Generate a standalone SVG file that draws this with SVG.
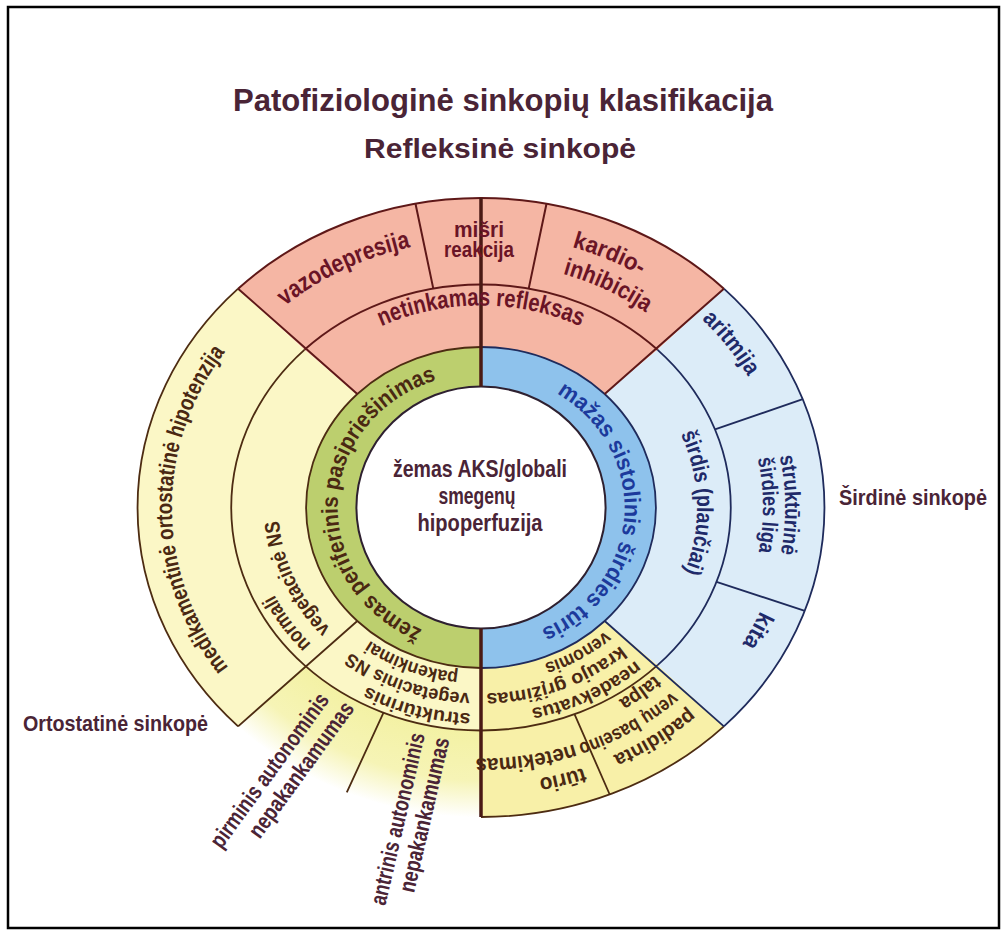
<svg xmlns="http://www.w3.org/2000/svg" width="1006" height="936" viewBox="0 0 1006 936">
<style>
.t{font-family:"Liberation Sans","DejaVu Sans Condensed",Arial,sans-serif;font-weight:bold}
.mar{fill:#6a1426}.brn{fill:#4a2812}.nav{fill:#1f2a6a}.blu{fill:#1c3a9c}.pur{fill:#4a2436}
.pink{fill:#f5b6a4}.yel{fill:#fbf7c6}.yel2{fill:#f8f0a8}.lbl{fill:#dcecf8}
.lm{stroke:#5e1818;stroke-width:2;fill:none}.ly{stroke:#4d2c12;stroke-width:1.8;fill:none}.lb{stroke:#1f2b5c;stroke-width:1.8;fill:none}
</style>
<defs>
<radialGradient id="gfade" gradientUnits="userSpaceOnUse" cx="481" cy="507.5" r="310" gradientTransform="translate(481 507.5) scale(1.11 1) translate(-481 -507.5)">
<stop offset="0.70" stop-color="#f3f1a2"/><stop offset="0.88" stop-color="#f6f4b6"/><stop offset="1" stop-color="#ffffff"/>
</radialGradient>
<path id="p_vazo" d="M223.4,373.5 A297.5 268 0 0 1 501.8,240.1"/>
<path id="p_kardio" d="M572.1,247.1 A303 273 0 0 1 743.4,371"/>
<path id="p_inhib" d="M562.8,273.8 A272 245 0 0 1 716.5,385"/>
<path id="p_netink" d="M285.3,406.5 A226 202 0 0 1 676.7,406.5"/>
<path id="p_green" d="M461,640.2 A143.4 134 0 0 1 476,373.6"/>
<path id="p_blue" d="M502.2,375 A143.4 134 0 0 1 484.8,641.5"/>
<path id="p_sirdis" d="M584.7,338.2 A216 193 0 0 1 593.2,672.4"/>
<path id="p_arit" d="M608,258.6 A304 274 0 0 1 783.7,482.2"/>
<path id="p_strukt" d="M743,368.4 A304 274 0 0 1 745.7,642.4"/>
<path id="p_sird2" d="M724,378.6 A282 254 0 0 1 726.4,632.6"/>
<path id="p_kita" d="M782.1,486.6 A302 272 0 0 1 651.6,731.9"/>
<path id="p_medik" d="M481,783.5 A306.4 276 0 0 1 475.6,231.5"/>
<path id="p_norm1" d="M311.2,644 A228.5 204 0 0 1 328.1,355.9"/>
<path id="p_norm2" d="M330.4,628.6 A202.7 181 0 0 1 345.4,373"/>
<path id="p_struk1" d="M606.6,680.3 A230.7 206 0 0 1 268.6,588"/>
<path id="p_struk2" d="M578.8,671.7 A208.3 186 0 0 1 282.9,565"/>
<path id="p_struk3" d="M565.4,655.4 A185.9 166 0 0 1 303.2,556"/>
<path id="p_nead1" d="M635.4,660.6 A230.7 206 0 0 1 285.4,616.7"/>
<path id="p_nead2" d="M620.4,645.7 A208.3 186 0 0 1 304.4,606.1"/>
<path id="p_nead3" d="M605.4,630.9 A185.9 166 0 0 1 323.4,595.5"/>
<path id="p_pad1" d="M689.2,708.6 A305.3 275 0 0 1 224.9,657.3"/>
<path id="p_pad2" d="M671.8,691.8 A279.7 252 0 0 1 246.4,644.7"/>
<path id="p_pad3" d="M654.4,675 A254.2 229 0 0 1 267.8,632.2"/>
<path id="p_tur1" d="M583.3,767.7 A306.4 276 0 0 1 178.8,553"/>
<path id="p_tur2" d="M574,744.1 A278.6 251 0 0 1 206.2,548.9"/>
</defs>
<rect x="0" y="0" width="1006" height="936" fill="#ffffff"/>
<rect x="8" y="7" width="991" height="921" fill="none" stroke="#000" stroke-width="2.5"/>

<g id="titles">
<text class="t pur" x="503" y="111" font-size="31" text-anchor="middle" textLength="540" lengthAdjust="spacingAndGlyphs">Patofiziologinė sinkopių klasifikacija</text>
<text class="t pur" x="500" y="158" font-size="27" text-anchor="middle" textLength="272" lengthAdjust="spacingAndGlyphs">Refleksinė sinkopė</text>
<text class="t pur" x="839" y="505" font-size="22" textLength="148" lengthAdjust="spacingAndGlyphs">Širdinė sinkopė</text>
<text class="t pur" x="23" y="731" font-size="22" textLength="185" lengthAdjust="spacingAndGlyphs">Ortostatinė sinkopė</text>
</g>

<g id="n_vazodepresija"><path class="pink" d="M238.1,288.7 A343.5 309.5 0 0 1 415.5,203.7 L433.3,288.6 A249.8 223 0 0 0 304.4,349.8 Z"/>
<text class="t mar" font-size="25"><textPath href="#p_vazo" startOffset="50%" text-anchor="middle" textLength="140" lengthAdjust="spacingAndGlyphs">vazodepresija</textPath></text></g>
<g id="n_misri"><path class="pink" d="M415.5,203.7 A343.5 309.5 0 0 1 546.5,203.7 L528.7,288.6 A249.8 223 0 0 0 433.3,288.6 Z"/></g>
<g id="n_kardio"><path class="pink" d="M546.5,203.7 A343.5 309.5 0 0 1 723.9,288.7 L657.6,349.8 A249.8 223 0 0 0 528.7,288.6 Z"/>
<text class="t mar" font-size="24"><textPath href="#p_kardio" textLength="74" lengthAdjust="spacingAndGlyphs">kardio-</textPath></text>
<text class="t mar" font-size="24"><textPath href="#p_inhib" textLength="92" lengthAdjust="spacingAndGlyphs">inhibicija</textPath></text></g>
<g id="n_aritmija"><path class="lbl" d="M723.9,288.7 A343.5 309.5 0 0 1 802.8,399.1 L715,429.4 A249.8 223 0 0 0 657.6,349.8 Z"/>
<text class="t nav" font-size="23"><textPath href="#p_arit" startOffset="50%" text-anchor="middle" textLength="74" lengthAdjust="spacingAndGlyphs">aritmija</textPath></text></g>
<g id="n_strukturine"><path class="lbl" d="M802.8,399.1 A343.5 309.5 0 0 1 804.8,610.8 L716.5,581.9 A249.8 223 0 0 0 715,429.4 Z"/>
<text class="t nav" font-size="22"><textPath href="#p_strukt" startOffset="50%" text-anchor="middle" textLength="98" lengthAdjust="spacingAndGlyphs">struktūrinė</textPath></text>
<text class="t nav" font-size="22"><textPath href="#p_sird2" startOffset="50%" text-anchor="middle" textLength="94" lengthAdjust="spacingAndGlyphs">širdies liga</textPath></text></g>
<g id="n_kita"><path class="lbl" d="M804.8,610.8 A343.5 309.5 0 0 1 723.9,726.3 L657.6,665.2 A249.8 223 0 0 0 716.5,581.9 Z"/>
<text class="t nav" font-size="23"><textPath href="#p_kita" startOffset="50%" text-anchor="middle" textLength="38" lengthAdjust="spacingAndGlyphs">kita</textPath></text></g>
<g id="n_padidinta"><path class="yel2" d="M723.9,726.3 A343.5 309.5 0 0 1 609.7,794.5 L574.6,714.3 A249.8 223 0 0 0 657.6,665.2 Z"/></g>
<g id="n_turio"><path class="yel2" d="M609.7,794.5 A343.5 309.5 0 0 1 481,817 L481,730.5 A249.8 223 0 0 0 574.6,714.3 Z"/></g>
<g id="n_antrinis"><path fill="url(#gfade)" d="M481,817 A343.5 309.5 0 0 1 346.8,792.4 L383.4,712.8 A249.8 223 0 0 0 481,730.5 Z"/></g>
<g id="n_pirminis"><path fill="url(#gfade)" d="M346.8,792.4 A343.5 309.5 0 0 1 238.1,726.3 L304.4,665.2 A249.8 223 0 0 0 383.4,712.8 Z"/></g>
<g id="n_medikamentine"><path class="yel" d="M238.1,726.3 A343.5 309.5 0 0 1 238.1,288.7 L304.4,349.8 A249.8 223 0 0 0 304.4,665.2 Z"/>
<text class="t brn" font-size="23"><textPath href="#p_medik" startOffset="50%" text-anchor="middle" textLength="340" lengthAdjust="spacingAndGlyphs">medikamentinė ortostatinė hipotenzija</textPath></text></g>

<g id="n_netinkamas"><path class="pink" d="M304.4,349.8 A249.8 223 0 0 1 657.6,349.8 L604.7,394 A175 160.5 0 0 0 357.3,394 Z"/></g>
<g id="n_sirdis"><path class="lbl" d="M657.6,349.8 A249.8 223 0 0 1 657.6,665.2 L604.7,621 A175 160.5 0 0 0 604.7,394 Z"/>
<text class="t nav" font-size="23"><textPath href="#p_sirdis" startOffset="50%" text-anchor="middle" textLength="142" lengthAdjust="spacingAndGlyphs">širdis (plaučiai)</textPath></text></g>
<g id="n_neadekvatus"><path class="yel2" d="M657.6,665.2 A249.8 223 0 0 1 481,730.5 L481,668 A175 160.5 0 0 0 604.7,621 Z"/></g>
<g id="n_strukturinis"><path class="yel" d="M481,730.5 A249.8 223 0 0 1 304.4,665.2 L357.3,621 A175 160.5 0 0 0 481,668 Z"/></g>
<g id="n_normali"><path class="yel" d="M304.4,665.2 A249.8 223 0 0 1 304.4,349.8 L357.3,394 A175 160.5 0 0 0 357.3,621 Z"/>
<text class="t brn" font-size="21"><textPath href="#p_norm1" textLength="62" lengthAdjust="spacingAndGlyphs">normali</textPath></text>
<text class="t brn" font-size="21"><textPath href="#p_norm2" textLength="122" lengthAdjust="spacingAndGlyphs">vegetacinė NS</textPath></text></g>

<g id="n_periferinis"><path fill="#bccf6e" d="M481,668 A175 160.5 0 0 1 481,347 L481,386.5 A124.6 121 0 0 0 481,628.5 Z"/>
<text class="t brn" font-size="23"><textPath href="#p_green" startOffset="50%" text-anchor="middle" textLength="330" lengthAdjust="spacingAndGlyphs">žemas periferinis pasipriešinimas</textPath></text></g>
<g id="n_sistolinis"><path fill="#8ec2ec" d="M481,347 A175 160.5 0 0 1 481,668 L481,628.5 A124.6 121 0 0 0 481,386.5 Z"/>
<text class="t blu" font-size="23"><textPath href="#p_blue" startOffset="50%" text-anchor="middle" textLength="295" lengthAdjust="spacingAndGlyphs">mažas sistolinis širdies tūris</textPath></text></g>

<g id="lines">
<path class="lm" d="M238.1,288.7 A343.5 309.5 0 0 1 723.9,288.7"/>
<path class="lb" d="M723.9,288.7 A343.5 309.5 0 0 1 723.9,726.3"/>
<path class="ly" d="M723.9,726.3 A343.5 309.5 0 0 1 481,817"/>
<path class="ly" d="M238.1,726.3 A343.5 309.5 0 0 1 238.1,288.7"/>
<path class="lm" d="M304.4,349.8 A249.8 223 0 0 1 657.6,349.8"/>
<path class="lb" d="M657.6,349.8 A249.8 223 0 0 1 657.6,665.2"/>
<path class="ly" d="M657.6,665.2 A249.8 223 0 0 1 304.4,665.2 A249.8 223 0 0 1 304.4,349.8"/>
<path class="ly" d="M481,668 A175 160.5 0 0 1 481,347" stroke-width="2.2"/>
<path class="lb" d="M481,347 A175 160.5 0 0 1 481,668" stroke-width="2.2"/>
<ellipse cx="481" cy="507.5" rx="124.6" ry="121" fill="#ffffff" stroke="#2e2030" stroke-width="2"/>
<path class="lm" d="M357.3,394 L238.1,288.7 M604.7,394 L723.9,288.7 M433.3,288.6 L415.5,203.7 M528.7,288.6 L546.5,203.7"/>
<path class="lb" d="M715,429.4 L802.8,399.1 M716.5,581.9 L804.8,610.8 M604.7,621 L723.9,726.3"/>
<path class="ly" d="M357.3,621 L238.1,726.3 M574.6,714.3 L609.7,794.5 M383.4,712.8 L346.8,792.4"/>
<path d="M481,198 L481,386.5 M481,628.5 L481,817" stroke="#4a1a14" stroke-width="3.5" fill="none"/>
</g>

<g id="labels_top">
<text class="t mar" x="479" y="237" font-size="22" text-anchor="middle" textLength="50" lengthAdjust="spacingAndGlyphs">mišri</text>
<text class="t mar" x="479" y="257" font-size="22" text-anchor="middle" textLength="70" lengthAdjust="spacingAndGlyphs">reakcija</text>
<text class="t mar" font-size="25"><textPath href="#p_netink" startOffset="50%" text-anchor="middle" textLength="205" lengthAdjust="spacingAndGlyphs">netinkamas refleksas</textPath></text>
</g>
<g id="labels_bottom">
<text class="t brn" font-size="19"><textPath href="#p_struk1" startOffset="50%" text-anchor="middle" textLength="108" lengthAdjust="spacingAndGlyphs">struktūrinis</textPath></text>
<text class="t brn" font-size="19"><textPath href="#p_struk2" startOffset="50%" text-anchor="middle" textLength="128" lengthAdjust="spacingAndGlyphs">vegetacinis NS</textPath></text>
<text class="t brn" font-size="19"><textPath href="#p_struk3" startOffset="50%" text-anchor="middle" textLength="95" lengthAdjust="spacingAndGlyphs">pakenkimai</textPath></text>
<text class="t brn" font-size="19"><textPath href="#p_nead1" textLength="116" lengthAdjust="spacingAndGlyphs">neadekvatus</textPath></text>
<text class="t brn" font-size="19"><textPath href="#p_nead2" textLength="145" lengthAdjust="spacingAndGlyphs">kraujo grįžimas</textPath></text>
<text class="t brn" font-size="19"><textPath href="#p_nead3" textLength="70" lengthAdjust="spacingAndGlyphs">venomis</textPath></text>
<text class="t brn" font-size="20"><textPath href="#p_pad1" textLength="90" lengthAdjust="spacingAndGlyphs">padidinta</textPath></text>
<text class="t brn" font-size="20"><textPath href="#p_pad2" textLength="108" lengthAdjust="spacingAndGlyphs">venų baseino</textPath></text>
<text class="t brn" font-size="20"><textPath href="#p_pad3" textLength="44" lengthAdjust="spacingAndGlyphs">talpa</textPath></text>
<text class="t brn" font-size="22"><textPath href="#p_tur1" textLength="46" lengthAdjust="spacingAndGlyphs">tūrio</textPath></text>
<text class="t brn" font-size="22"><textPath href="#p_tur2" textLength="100" lengthAdjust="spacingAndGlyphs">netekimas</textPath></text>
<text class="t pur" font-size="23" text-anchor="middle" transform="translate(275.7 774.8) rotate(-54)" textLength="185" lengthAdjust="spacingAndGlyphs">pirminis autonominis</text>
<text class="t pur" font-size="23" text-anchor="middle" transform="translate(307.4 774.1) rotate(-54)" textLength="162" lengthAdjust="spacingAndGlyphs">nepakankamumas</text>
<text class="t pur" font-size="23" text-anchor="middle" transform="translate(405.1 820.6) rotate(-77)" textLength="176" lengthAdjust="spacingAndGlyphs">antrinis autonominis</text>
<text class="t pur" font-size="23" text-anchor="middle" transform="translate(431.8 816.6) rotate(-77)" textLength="158" lengthAdjust="spacingAndGlyphs">nepakankamumas</text>
</g>

<g id="n_center">
<text class="t pur" x="480" y="477" font-size="24" text-anchor="middle" textLength="174" lengthAdjust="spacingAndGlyphs">žemas AKS/globali</text>
<text class="t pur" x="477" y="504" font-size="24" text-anchor="middle" textLength="77" lengthAdjust="spacingAndGlyphs">smegenų</text>
<text class="t pur" x="480" y="531" font-size="24" text-anchor="middle" textLength="125" lengthAdjust="spacingAndGlyphs">hipoperfuzija</text>
</g>
</svg>
